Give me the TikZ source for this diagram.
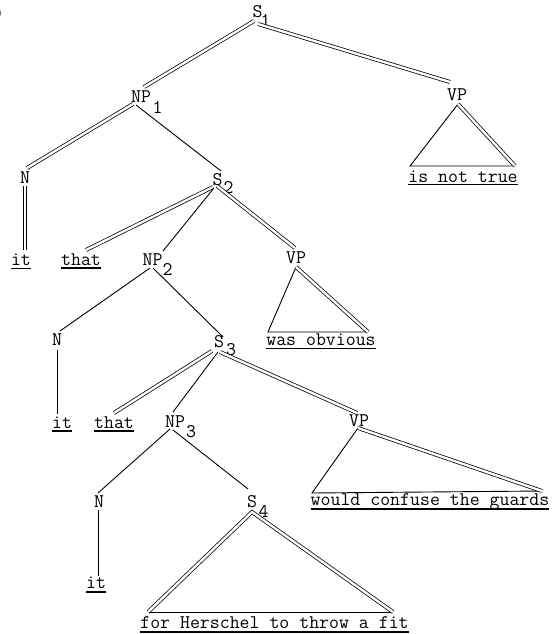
\documentclass[tikz,border=0pt]{standalone}
\usepackage{fontspec}
\usetikzlibrary{calc}
\tikzset{
  lab/.style={anchor=base, inner sep=0pt, font=\ttfamily\fontsize{19.3}{20}\selectfont},
  sgl/.style={line width=0.9pt},
  thin2/.style={line width=0.8pt},
  dbl/.style={double, line width=0.75pt, double distance=2.4pt},
  uline/.style={line width=1.1pt},
  duline/.style={double, line width=0.6pt, double distance=0.8pt},
}
\begin{document}
\begin{tikzpicture}[x=1pt, y=-1pt]
\useasboundingbox (0,0) rectangle (553,634);
\fill[white] (0,0) rectangle (553,634);

% stray label mark at top-left
\node[lab] (paren) at (-1,20) {)};

% labels
\node[lab] (S1) at (257.5,18) {S};
\node[lab] (S1s) at (265.5,27) {1};
\node[lab] (NP1) at (141,102) {NP};
\node[lab] (NP1s) at (157.5,113) {1};
\node[lab] (VP1) at (457,100) {VP};
\node[lab] (N1) at (25,183) {N};
\node[lab] (S2) at (217.5,185) {S};
\node[lab] (S2s) at (228.5,193) {2};
\node[lab] (it1) at (21,265) {it};
\node[lab] (that1) at (81,265) {that};
\node[lab] (NP2) at (152.5,265) {NP};
\node[lab] (NP2s) at (167.5,275) {2};
\node[lab] (VP2) at (296,263) {VP};
\node[lab] (N2) at (57,345) {N};
\node[lab] (S3) at (219,347) {S};
\node[lab] (S3s) at (231,355) {3};
\node[lab] (it2) at (62,428) {it};
\node[lab] (that2) at (114,428) {that};
\node[lab] (NP3) at (175,427) {NP};
\node[lab] (NP3s) at (191,437) {3};
\node[lab] (VP3) at (359,426) {VP};
\node[lab] (N3) at (99,507) {N};
\node[lab] (S4) at (252,507) {S};
\node[lab] (S4s) at (263.5,517) {4};
\node[lab] (it3) at (96,588) {it};

\node[lab] (t1) at (463,182) {is not true};
\node[lab] (t2) at (321,345) {was obvious};
\node[lab] (t3) at (430,505) {would confuse the guards};
\node[lab] (t4) at (274.5,628) {for Herschel to throw a fit};

% connectors
\draw[dbl] ($(S1.base)+(-3.5,3)$) -- ($(NP1.base)+(3,-15)$);
\draw[dbl] ($(S1.base)+(0.5,6)$) -- ($(VP1.base)+(-7,-18)$);
\draw[dbl] ($(NP1.base)+(-8,2)$) -- ($(N1.base)+(2,-15)$);
\draw[sgl] ($(NP1.base)+(-5,3)$) -- ($(S2.base)+(3.5,-14)$);
% vertical double line N -> it, drawn as two parallel strokes
\draw[thin2] ($(N1.base)+(-2.1,3)$) -- ($(it1.base)+(1.9,-15)$);
\draw[thin2] ($(N1.base)+(1.1,3)$) -- ($(it1.base)+(5.1,-15)$);
\draw[dbl] ($(S2.base)+(-4.5,2)$) -- ($(that1.base)+(5,-15)$);
\draw[sgl] ($(S2.base)+(-3.5,3)$) -- ($(NP2.base)+(10.5,-14)$);
\draw[dbl] ($(S2.base)+(-0.5,1)$) -- ($(VP2.base)+(-1,-15)$);
\draw[sgl] ($(NP2.base)+(-2.5,3)$) -- ($(N2.base)+(3,-14)$);
\draw[sgl] ($(NP2.base)+(0.5,3)$) -- ($(S3.base)+(4,-10)$);
\draw[sgl] ($(N2.base)+(0.5,5)$) -- ($(it2.base)+(-4.5,-14)$);
\draw[dbl] ($(S3.base)+(-7,4)$) -- ($(that2.base)+(0,-15)$);
\draw[sgl] ($(S3.base)+(-1,5)$) -- ($(NP3.base)+(-2,-15)$);
\draw[dbl] ($(S3.base)+(1,5)$) -- ($(VP3.base)+(-2,-13)$);
\draw[sgl] ($(NP3.base)+(-5,2)$) -- ($(N3.base)+(-1,-14)$);
\draw[sgl] ($(NP3.base)+(-2,3)$) -- ($(S4.base)+(-4,-18)$);
\draw[sgl] ($(N3.base)+(-1,3)$) -- ($(it3.base)+(2,-12)$);

% triangles
\coordinate (A1) at ($(VP1.base)+(1,4)$);
\coordinate (L1) at (410,166);
\coordinate (R1) at (515,166);
\draw[sgl] (A1) -- (L1) -- (R1);
\draw[dbl] (A1) -- (R1);

\coordinate (A2) at ($(VP2.base)+(0,4)$);
\coordinate (L2) at (268,332);
\coordinate (R2) at (368,332);
\draw[sgl] (A2) -- (L2) -- (R2);
\draw[dbl] (A2) -- (R2);

\coordinate (A3) at ($(VP3.base)+(-1,2)$);
\coordinate (L3) at (312,493);
\coordinate (R3) at (542,491);
\draw[sgl] (A3) -- (L3) -- (R3);
\draw[dbl] (A3) -- (R3);

\coordinate (A4) at ($(S4.base)+(0,5)$);
\coordinate (L4) at (148,612);
\coordinate (R4) at (393,612);
\draw[sgl] (L4) -- (R4);
\draw[dbl] (L4) -- (A4) -- (R4);

% underlines
\draw[duline] ($(it1.base west)+(0,4)$) -- ($(it1.base east)+(0,4)$);
\draw[uline] ($(that1.base west)+(0,3)$) -- ($(that1.base east)+(0,3)$);
\draw[uline] ($(it2.base west)+(0,3)$) -- ($(it2.base east)+(0,3)$);
\draw[uline] ($(that2.base west)+(0,3)$) -- ($(that2.base east)+(0,3)$);
\draw[uline] ($(it3.base west)+(0,4)$) -- ($(it3.base east)+(0,4)$);
\draw[duline] ($(t1.base west)+(0,3)$) -- ($(t1.base east)+(0,3)$);
\draw[duline] ($(t2.base west)+(0,4)$) -- ($(t2.base east)+(0,4)$);
\draw[uline] ($(t3.base west)+(0,4)$) -- ($(t3.base east)+(0,4)$);
\draw[uline] ($(t4.base west)+(0,4)$) -- ($(t4.base east)+(0,4)$);
\end{tikzpicture}
\end{document}
